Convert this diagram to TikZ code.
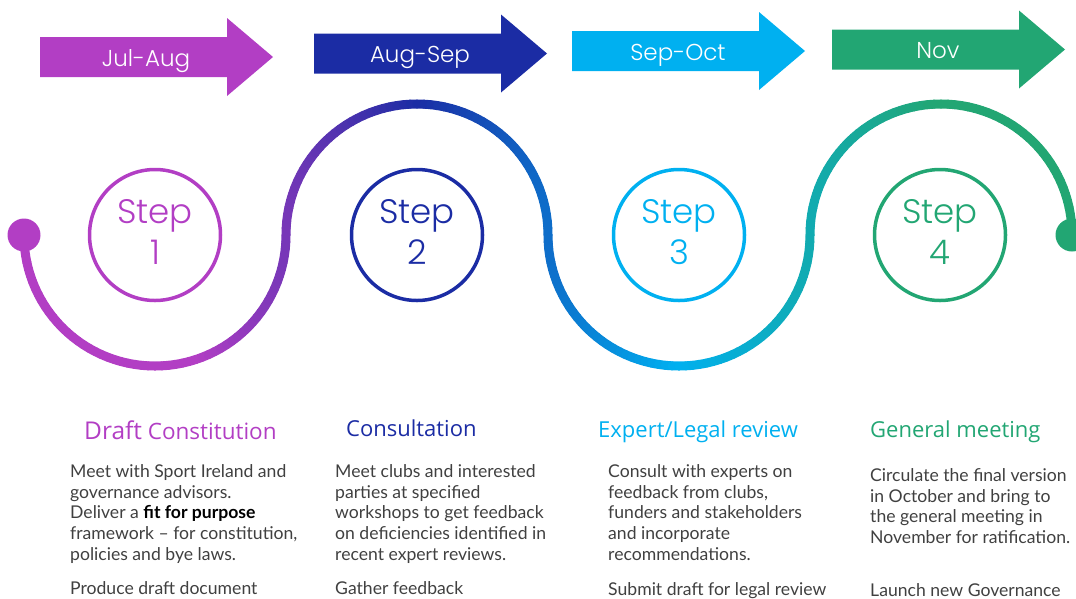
\documentclass[tikz,border=0pt]{standalone}
\usepackage{fontspec}
\setmainfont{Lato}
\newfontfamily\headfont{Open Sans}
\newfontfamily\thinfont{Poppins Light}

\definecolor{wPurple}{HTML}{B23EC4}
\definecolor{wDkBlue}{HTML}{1B2CA4}
\definecolor{wCyan}{HTML}{00B0F0}
\definecolor{wGreen}{HTML}{22A673}
\definecolor{bodygray}{HTML}{404040}

\tikzset{
  month/.style={text=white, inner sep=0pt, anchor=base, font=\thinfont\fontsize{23}{27}\selectfont},
  stepcircle/.style={circle, draw=#1, text=#1, line width=3.5pt, minimum size=131pt, inner sep=0pt,
    align=center, font=\thinfont\fontsize{34}{41}\selectfont},
  wave/.style={line width=9pt, line cap=round},
  enddot/.style={circle, fill=#1, minimum size=33pt, inner sep=0pt},
  heading/.style={anchor=base west, inner sep=0pt, text=#1, font=\headfont\fontsize{22}{26}\selectfont},
  bodytext/.style={anchor=base west, inner sep=0pt, align=left, text=bodygray,
    font=\fontsize{17.6}{20.6}\selectfont},
}
\newcommand{\lowdepth}{\rule[-7pt]{0pt}{7pt}}

\begin{document}
\begin{tikzpicture}[x=1pt,y=1pt]
  \useasboundingbox (0,0) rectangle (1076,-598);

  % month arrows
  \foreach \xa/\ya/\col/\lab [count=\i] in {40/57/wPurple/Jul-Aug, 314/53.5/wDkBlue/Aug-Sep,
      572/51/wCyan/Sep-Oct, 832/49.5/wGreen/Nov} {
    \fill[\col] (\xa,-\ya+20) -- ++(187,0) -- ++(0,19) -- ++(46,-39) -- ++(-46,-39)
      -- ++(0,19) -- ++(-187,0) -- cycle;
    \node[month] (mon\i) at (\xa+106,-\ya-9) {\lab};
  }

  % the wave, coloured piece by piece
  \foreach \cx/\dir in {155/1,417/-1,679/1,941/-1} {
    \foreach \t in {0,3,...,177} {
      \pgfmathsetmacro\wa{180+\dir*\t}
      \pgfmathsetmacro\wx{\cx+131*cos(\wa+\dir*1.5)}
      \pgfmathtruncatemacro\seg{\wx<420 ? 1 : (\wx<680 ? 2 : 3)}
      \pgfmathsetmacro\wlo{\seg==1 ? 200 : (\seg==2 ? 420 : 680)}
      \pgfmathsetmacro\wlen{\seg==1 ? 220 : 260}
      \pgfmathsetmacro\wf{max(0,min(100,(\wx-\wlo)/\wlen*100))}
      \ifcase\seg\or\colorlet{segc}{wDkBlue!\wf!wPurple}\or\colorlet{segc}{wCyan!\wf!wDkBlue}\or\colorlet{segc}{wGreen!\wf!wCyan}\fi
      \draw[wave, segc] (\cx,-235) ++(\wa:131) arc[start angle=\wa, delta angle=\dir*3, radius=131];
    }
  }
  \node[enddot=wPurple] (start) at (24,-235) {};
  \node[enddot=wGreen] (finish) at (1072,-235) {};

  % steps
  \node[stepcircle=wPurple] (step1) at (155,-235) {Step\\1\lowdepth};
  \node[stepcircle=wDkBlue] (step2) at (417,-235) {Step\\2\lowdepth};
  \node[stepcircle=wCyan] (step3) at (679,-235) {Step\\3\lowdepth};
  \node[stepcircle=wGreen] (step4) at (940,-235) {Step\\4\lowdepth};

  % headings
  \node[heading=wPurple] (title1) at (84,-439)
    {{\fontsize{24.5}{28}\selectfont Draft} {\fontsize{22.5}{26}\selectfont Constitution}};
  \node[heading=wDkBlue] (title2) at (346,-436) {Consultation};
  \node[heading=wCyan] (title3) at (598,-437) {Expert/Legal review};
  \node[heading=wGreen] (title4) at (870,-437) {General meeting};

  % texts (base = last line)
  \node[bodytext] (body1) at (70,-560) {Meet with Sport Ireland and\\governance advisors.\\
    Deliver a {\color{black}\bfseries fit for purpose}\\framework – for constitution,\\policies and bye laws.};
  \node[bodytext] (body1b) at (70,-594) {Produce draft document};
  \node[bodytext] (body2) at (335,-560) {Meet clubs and interested\\parties at specified\\
    workshops to get feedback\\on deficiencies identified in\\recent expert reviews.};
  \node[bodytext] (body2b) at (335,-594) {Gather feedback};
  \node[bodytext] (body3) at (608,-560) {Consult with experts on\\feedback from clubs,\\
    funders and stakeholders\\and incorporate\\recommendations.};
  \node[bodytext] (body3b) at (608,-595) {Submit draft for legal review};
  \node[bodytext] (body4) at (870,-543.5) {Circulate the final version\\in October and bring to\\
    the general meeting in\\November for ratification.};
  \node[bodytext] (body4b) at (870,-596) {Launch new Governance};
\end{tikzpicture}
\end{document}
